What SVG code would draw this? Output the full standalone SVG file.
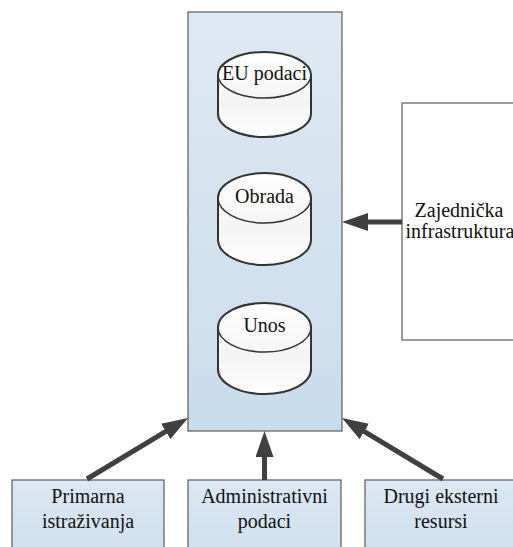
<svg xmlns="http://www.w3.org/2000/svg" width="513" height="547" viewBox="0 0 513 547">
  <defs>
    <linearGradient id="blueFill" x1="0" y1="0" x2="0" y2="1">
      <stop offset="0" stop-color="#dfe9f3"/>
      <stop offset="1" stop-color="#c9dcec"/>
    </linearGradient>
    <linearGradient id="boxFill" x1="0" y1="0" x2="0" y2="1">
      <stop offset="0" stop-color="#dce8f3"/>
      <stop offset="1" stop-color="#cddfee"/>
    </linearGradient>
    <linearGradient id="drumFill" x1="0" y1="0" x2="0" y2="1">
      <stop offset="0" stop-color="#ffffff"/>
      <stop offset="0.6" stop-color="#f4f4f4"/>
      <stop offset="1" stop-color="#ffffff"/>
    </linearGradient>
    <marker id="head" viewBox="0 0 26 18" refX="6" refY="9" markerWidth="26" markerHeight="18" markerUnits="userSpaceOnUse" orient="auto">
      <path d="M0,0 L26,9 L0,18 Z" fill="#404040"/>
    </marker>
  </defs>
  <style>
    .lbl { font-size: 20px; fill: #111; text-anchor: middle; }
    .frame { stroke: #5a5a5a; stroke-width: 1.2; }
    .drum { fill: url(#drumFill); stroke: #333; stroke-width: 2; }
    .rim { fill: none; stroke: #333; stroke-width: 1.5; }
    .link { stroke: #404040; stroke-width: 5; fill: none; marker-end: url(#head); }
  </style>

  <g font-family="Liberation Serif, DejaVu Serif, serif">
  <!-- central store with its three databases -->
  <g id="store">
    <rect class="frame" x="188" y="12" width="154" height="419" fill="url(#blueFill)"/>
  </g>
  <g id="eu-podaci">
    <path class="drum" d="M218,75 L218,114 A46.5,23 0 0 0 311,114 L311,75 A46.5,23 0 0 0 218,75 Z"/>
    <path class="rim" d="M218,75 A46.5,23 0 0 0 311,75"/>
    <text class="lbl" x="264.5" y="80">EU podaci</text>
  </g>
  <g id="obrada">
    <path class="drum" d="M218,198 L218,240 A46.5,25 0 0 0 311,240 L311,198 A46.5,25 0 0 0 218,198 Z"/>
    <path class="rim" d="M218,198 A46.5,25 0 0 0 311,198"/>
    <text class="lbl" x="264.5" y="203">Obrada</text>
  </g>
  <g id="unos">
    <path class="drum" d="M218,327.5 L218,369.5 A46.5,24.5 0 0 0 311,369.5 L311,327.5 A46.5,24.5 0 0 0 218,327.5 Z"/>
    <path class="rim" d="M218,327.5 A46.5,24.5 0 0 0 311,327.5"/>
    <text class="lbl" x="264.5" y="332">Unos</text>
  </g>

  <!-- shared infrastructure -->
  <g id="infrastruktura">
    <rect class="frame" x="402" y="103" width="130" height="237" fill="#ffffff"/>
    <text class="lbl" x="459" y="217">Zajednička</text>
    <text class="lbl" x="460" y="238">infrastruktura</text>
  </g>

  <!-- data sources -->
  <g id="primarna">
    <rect class="frame" x="12" y="480" width="152" height="80" fill="url(#boxFill)"/>
    <text class="lbl" x="88" y="503">Primarna</text>
    <text class="lbl" x="88" y="528">istraživanja</text>
  </g>
  <g id="administrativni">
    <rect class="frame" x="188" y="480" width="153" height="80" fill="url(#boxFill)"/>
    <text class="lbl" x="264.5" y="503">Administrativni</text>
    <text class="lbl" x="264.5" y="528">podaci</text>
  </g>
  <g id="drugi">
    <rect class="frame" x="365" y="480" width="160" height="80" fill="url(#boxFill)"/>
    <text class="lbl" x="441" y="503">Drugi eksterni</text>
    <text class="lbl" x="441" y="528">resursi</text>
  </g>
  </g>

  <!-- connectors -->
  <g id="connectors">
    <line class="link" x1="402" y1="222" x2="362" y2="222"/>
    <line class="link" x1="87" y1="479" x2="170.9" y2="428.3"/>
    <line class="link" x1="264.5" y1="480" x2="264.5" y2="451"/>
    <line class="link" x1="443" y1="479" x2="359.1" y2="428.3"/>
  </g>
</svg>
